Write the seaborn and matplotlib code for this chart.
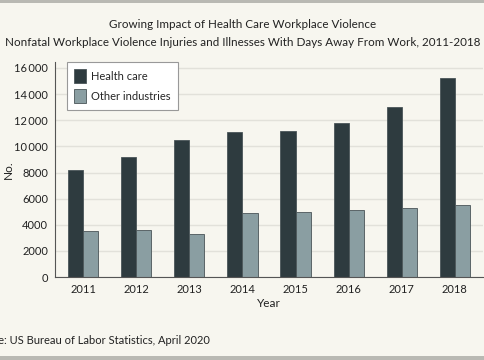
import matplotlib
matplotlib.use("Agg")
import matplotlib.pyplot as plt
import pandas as pd
import seaborn as sns

# data
years = ["2011", "2012", "2013", "2014", "2015", "2016", "2017", "2018"]
health_care = [8200, 9200, 10500, 11100, 11200, 11800, 13000, 15200]
other_industries = [3500, 3600, 3300, 4900, 5000, 5100, 5300, 5500]
yticks = [0, 2000, 4000, 6000, 8000, 10000, 12000, 14000, 16000]
ytick_labels = ["0", "2000", "4000", "6000", "8000",
                "10\u2009000", "12\u2009000", "14\u2009000", "16\u2009000"]

df = pd.DataFrame({
    "Year": years * 2,
    "No.": health_care + other_industries,
    "Group": ["Health care"] * len(years) + ["Other industries"] * len(years),
})

bg = "#f7f6ef"
sns.set_theme(style="white")
plt.rcParams["font.family"] = ["Lato", "DejaVu Sans"]

fig = plt.figure(figsize=(4.85, 3.6), dpi=100, facecolor=bg)
ax = fig.add_axes([55 / 485, 1 - 277 / 360, 428 / 485, 215 / 360])
ax.set_facecolor(bg)

sns.barplot(data=df, x="Year", y="No.", hue="Group",
            palette=["#2b3d42", "#86a1a6"], width=0.57,
            edgecolor="#4a5558", linewidth=0.6, ax=ax)

ax.set_ylim(0, 16000 * 215 / 209)
ax.set_xlim(-0.53, 7.53)
ax.set_yticks(yticks)
ax.set_yticklabels(ytick_labels)
ax.yaxis.grid(True, color="#e2e1da", linewidth=1)
ax.set_axisbelow(True)
for s in ["top", "right"]:
    ax.spines[s].set_visible(False)
ax.spines["left"].set_color("#555555")
ax.spines["bottom"].set_color("#555555")
ax.spines["left"].set_linewidth(0.8)
ax.spines["bottom"].set_linewidth(0.8)
ax.tick_params(axis="y", length=3, width=0.8, color="#555555", labelsize=8, labelcolor="#222222", pad=2)
ax.tick_params(axis="x", length=0, labelsize=8, labelcolor="#222222", pad=5)
ax.set_xlabel("Year", fontsize=8.5, color="#222222", labelpad=2)
ax.set_ylabel("No.", fontsize=8.5, color="#222222")
ax.yaxis.set_label_coords(-41 / 428, 0.5)

leg = ax.legend(loc="upper left", bbox_to_anchor=(12 / 428, 1.0), borderaxespad=0,
                frameon=True, fancybox=False, fontsize=8, handlelength=1.1,
                handleheight=1.5, borderpad=0.65, labelspacing=0.6, handletextpad=0.45)
leg.get_frame().set_facecolor("white")
leg.get_frame().set_edgecolor("#999999")
leg.get_frame().set_linewidth(0.8)
leg.get_frame().set_alpha(1)

fig.text(0.5, 1 - 24 / 360, "Growing Impact of Health Care Workplace Violence",
         ha="center", va="center", fontsize=8.4, color="#222222")
fig.text(0.5, 1 - 42 / 360,
         "Nonfatal Workplace Violence Injuries and Illnesses With Days Away From Work, 2011-2018",
         ha="center", va="center", fontsize=8.4, color="#222222")
fig.text(-30 / 485, 1 - 341 / 360, "Source: US Bureau of Labor Statistics, April 2020",
         ha="left", va="center", fontsize=8, color="#222222")

# gray border strips at top and bottom
fig.add_artist(plt.Rectangle((0, 1 - 3 / 360), 1, 3 / 360, transform=fig.transFigure,
                             color="#b9b9b3", lw=0))
fig.add_artist(plt.Rectangle((0, 0), 1, 4 / 360, transform=fig.transFigure,
                             color="#b9b9b3", lw=0))

fig.savefig("out.png", dpi=100, facecolor=bg)
